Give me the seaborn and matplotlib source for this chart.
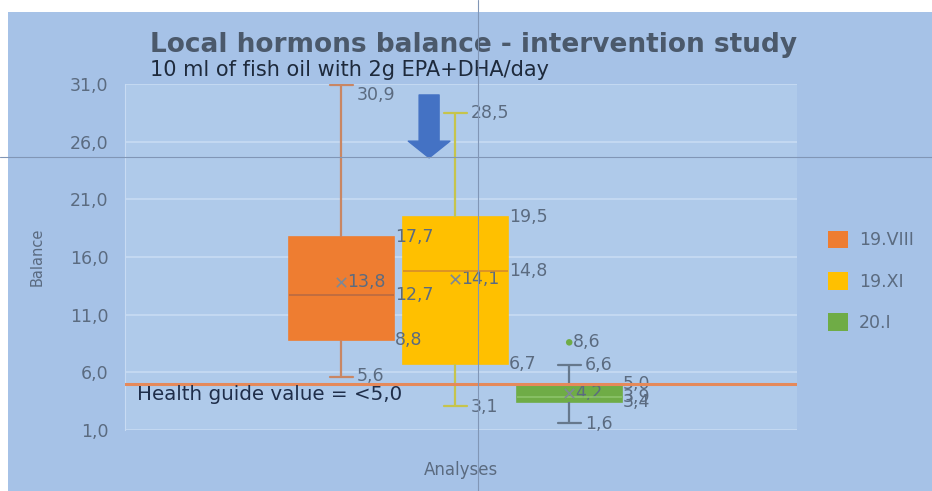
import matplotlib
matplotlib.use("Agg")
import matplotlib.pyplot as plt
import matplotlib.patches as mpatches
from matplotlib.lines import Line2D
from matplotlib.ticker import FuncFormatter
import seaborn as sns
import pandas as pd

# Five-number summaries
groups = ["19.VIII", "19.XI", "20.I"]
mins = [5.6, 3.1, 1.6]
q1s = [8.8, 6.7, 3.4]
medians = [12.7, 14.8, 3.9]
q3s = [17.7, 19.5, 5.0]
maxs = [30.9, 28.5, 6.6]
means = [13.8, 14.1, 4.2]
outlier_groups = ["20.I"]
outlier_values = [8.6]
health_guide = 5.0
yticks = [1.0, 6.0, 11.0, 16.0, 21.0, 26.0, 31.0]

colors = ["#ee7d31", "#ffc000", "#6fac46"]
whisker_colors = ["#c98663", "#c6c44c", "#66788c"]
median_colors = ["#b96a43", "#d58c2c", "#8cc46a"]
bg = "#a6c2e7"
plot_bg = "#afcaea"
grid_c = "#c8dbf3"
label_c = "#5b6b80"


def fmt(v):
    return f"{v:.1f}".replace(".", ",")


# long table: the five summary values per group reproduce the quartiles exactly
rows = []
for g, a, b, c, d, e in zip(groups, mins, q1s, medians, q3s, maxs):
    for v in (a, b, c, d, e):
        rows.append({"group": g, "value": v})
df = pd.DataFrame(rows)

sns.set_style("white")
plt.rcParams["font.family"] = ["DejaVu Sans"]

fig = plt.figure(figsize=(9.32, 4.91), dpi=100)
fig.patch.set_facecolor("white")
fig.add_artist(mpatches.Rectangle((8 / 932, 0), 1, 1 - 12 / 491, transform=fig.transFigure,
                                  facecolor=bg, edgecolor="none", zorder=-10))
ax = fig.add_axes([125 / 932, 61 / 491, 672 / 932, 346 / 491])
ax.set_facecolor(plot_bg)

sns.boxplot(data=df, x="group", y="value", hue="group", order=groups, hue_order=groups,
            palette=colors, saturation=1, whis=(0, 100), width=0.92, showfliers=False,
            linewidth=1.2, legend=False, ax=ax, zorder=3)

# recolour box parts the way the spreadsheet chart draws them
for i, cont in enumerate(ax.containers):
    for box in cont.boxes:
        box.set_edgecolor(colors[i])
    for w in cont.whiskers:
        w.set_color(whisker_colors[i])
        w.set_linewidth(1.6)
    for c in cont.caps:
        c.set_color(whisker_colors[i])
        c.set_linewidth(1.6)
        c.set_xdata([i - 0.1, i + 0.1])
    for m in cont.medians:
        m.set_color(median_colors[i])
        m.set_linewidth(1.2)

sns.scatterplot(x=groups, y=means, marker="x", color="#7d8896", s=45, linewidth=1.2,
                ax=ax, legend=False, zorder=5)
sns.scatterplot(x=outlier_groups, y=outlier_values, color=colors[2], s=22, edgecolor="none",
                ax=ax, legend=False, zorder=5)

# value labels
lab = dict(color=label_c, fontsize=12.5, va="center", textcoords="offset points")
for i, g in enumerate(groups):
    edge = i + 0.46
    cap = i + 0.1
    ax.annotate(fmt(maxs[i]), (cap, maxs[i]), xytext=(3, -7 if i == 0 else 0), ha="left", **lab)
    ax.annotate(fmt(mins[i]), (cap, mins[i]), xytext=(3, 1 if i == 0 else -1), ha="left", **lab)
    ax.annotate(fmt(means[i]), (i, means[i]), xytext=(4, 0), ha="left", **lab)
    ax.annotate(fmt(q3s[i]), (edge, q3s[i]), xytext=(1, 0), ha="left", **lab)
    ax.annotate(fmt(medians[i]), (edge, medians[i]), xytext=(1, 0), ha="left", **lab)
    ax.annotate(fmt(q1s[i]), (edge, q1s[i]), xytext=(1, 0), ha="left", **lab)
for g, v in zip(outlier_groups, outlier_values):
    ax.annotate(fmt(v), (groups.index(g), v), xytext=(3, 0), ha="left", **lab)

# health guide line
ax.axhline(health_guide, color="#e5895a", linewidth=2.2, zorder=4)
ax.annotate(f"Health guide value = <{fmt(health_guide)}", (0.018, health_guide),
            xycoords=("axes fraction", "data"), xytext=(0, -8), textcoords="offset points",
            ha="left", va="center", fontsize=14.3, color="#1f2e4a", zorder=6)

# intervention arrow
ax.annotate("", xy=(0.77, 24.6), xytext=(0.77, 30.05),
            arrowprops=dict(arrowstyle="simple,head_width=1.5,head_length=0.6,tail_width=0.72",
                            mutation_scale=20, color="#4472c4", shrinkA=0, shrinkB=0), zorder=6)

ax.set_xlim(-1.9, 4.0)
ax.set_ylim(1, 31)
ax.set_yticks(yticks)
ax.yaxis.set_major_formatter(FuncFormatter(lambda v, p: fmt(v)))
ax.tick_params(axis="y", length=0, pad=12, labelsize=12.5, labelcolor=label_c)
ax.set_xticks([])
ax.grid(axis="y", color=grid_c, linewidth=1.2, zorder=0)
ax.set_axisbelow(True)
for s in ["top", "right", "bottom"]:
    ax.spines[s].set_visible(False)
ax.spines["left"].set_color(grid_c)
ax.set_xlabel("Analyses", fontsize=12, color=label_c, labelpad=22)
ax.set_ylabel("Balance", fontsize=10.5, color="#5a6a80", labelpad=18)

fig.text(150 / 932, 1 - 45 / 491, "Local hormons balance - intervention study", fontsize=19,
         fontweight="bold", color="#4b596b", ha="left", va="center")
fig.text(150 / 932, 1 - 70 / 491, "10 ml of fish oil with 2g EPA+DHA/day", fontsize=15,
         color="#1e2a3c", ha="left", va="center")

handles = [mpatches.Patch(facecolor=c, edgecolor="none") for c in colors]
fig.legend(handles, groups, loc="upper left", bbox_to_anchor=(812 / 932, 1 - 215 / 491),
           frameon=False, handlelength=1.2, handleheight=1.2, labelspacing=1.3,
           fontsize=12.5, labelcolor=label_c, handletextpad=0.6)

# spreadsheet cell lines behind the chart
fig.add_artist(Line2D([0, 1], [1 - 157 / 491] * 2, transform=fig.transFigure, color="#8196b6", lw=0.8, zorder=20))
fig.add_artist(Line2D([478 / 932] * 2, [0, 1], transform=fig.transFigure, color="#8196b6", lw=0.8, zorder=20))

fig.savefig("out.png", dpi=100, facecolor=fig.get_facecolor())
